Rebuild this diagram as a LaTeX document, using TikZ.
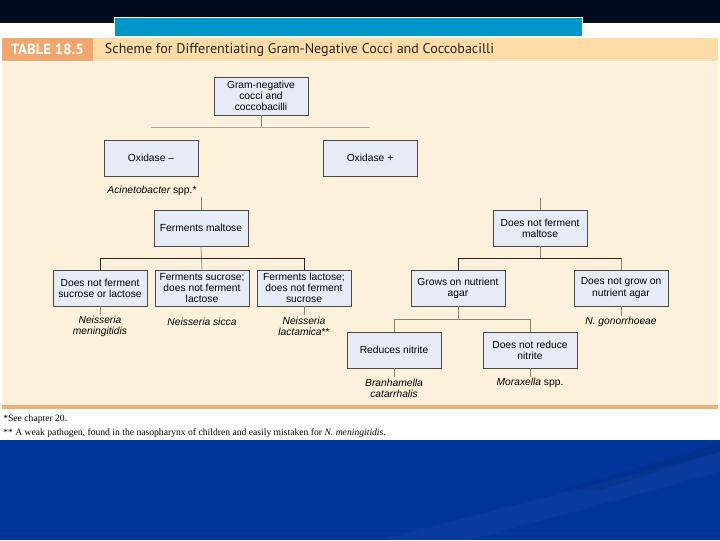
\documentclass[tikz,border=0pt]{standalone}
\usepackage{fontspec}
\setmainfont{Liberation Serif}
\setsansfont{Liberation Sans}
\newfontfamily\headfont{PT Sans}
\usepackage{tikz}
\usetikzlibrary{positioning}

\definecolor{topnavy}{HTML}{000C1E}
\definecolor{barblue}{HTML}{0096C8}
\definecolor{headband}{HTML}{FDDCA8}
\definecolor{tabletag}{HTML}{F2A66C}
\definecolor{cream}{HTML}{FEF1DC}
\definecolor{rulebrown}{HTML}{F0B078}
\definecolor{deepblue}{HTML}{00359A}
\definecolor{boxfill}{HTML}{E6ECF6}
\definecolor{boxline}{HTML}{4A4A4A}
\definecolor{stem}{HTML}{8C8272}

\begin{document}
\begin{tikzpicture}[x=0.025cm, y=-0.025cm,
        test/.style={rectangle, draw=boxline, fill=boxfill, line width=0.6pt, minimum width=2.35cm, minimum height=0.9cm, align=center, inner sep=1pt, font=\sffamily\fontsize{7.3}{7.9}\selectfont},
        species/.style={align=center, inner sep=1pt, font=\sffamily\itshape\fontsize{7.3}{7.9}\selectfont},
        stemline/.style={draw=stem, line width=0.5pt},
        forkline/.style={draw=black!85, line width=0.6pt}
    ]
        % Slide background
        \useasboundingbox (0,0) rectangle (720,540);
        \fill[white] (0,0) rectangle (720,540);
        \fill[topnavy] (0,0) rectangle (720,23);
        \fill[white] (114,17) rectangle (583,37);
        \fill[barblue] (115,18) rectangle (582,36);
        \fill[deepblue] (0,440) rectangle (720,540);
        \fill[white, opacity=0.03] (380,540) -- (720,452) -- (720,472) -- (470,540) -- cycle;
        \fill[black, opacity=0.07] (560,490) -- (720,444) -- (720,452) -- (600,490) -- cycle;

        % Table frame
        \fill[headband] (2,38) rectangle (718,61);
        \fill[tabletag] (2,38) rectangle (93,61);
        \fill[cream] (2,62) rectangle (718,406);
        \fill[rulebrown] (2,405) rectangle (718,409);
        \node[anchor=west, text=white, font=\headfont\bfseries\fontsize{10.5}{12}\selectfont] (tabletag) at (6,49.5) {TABLE 18.5};
        \node[anchor=west, text=black!85, font=\headfont\fontsize{10}{12}\selectfont] (tabletitle) at (100,49.5) {Scheme for Differentiating Gram-Negative Cocci and Coccobacilli};

        % Tests
        \node[test, minimum height=0.95cm] (root) at (261,96) {Gram-negative\\cocci and\\coccobacilli};
        \node[test] (oxneg) at (151,158) {Oxidase –};
        \node[test] (oxpos) at (370,158) {Oxidase +};
        \node[test] (maltpos) at (201,228) {Ferments maltose};
        \node[test] (maltneg) at (540,228) {Does not ferment\\maltose};
        \node[test] (nosuclac) at (100,288) {Does not ferment\\sucrose or lactose};
        \node[test] (sucrose) at (202,288) {Ferments sucrose;\\does not ferment\\lactose};
        \node[test] (lactose) at (304,288) {Ferments lactose;\\does not ferment\\sucrose};
        \node[test] (agarpos) at (458,288) {Grows on nutrient\\agar};
        \node[test] (agarneg) at (621,288) {Does not grow on\\nutrient agar};
        \node[test] (nitpos) at (394,350) {Reduces nitrite};
        \node[test] (nitneg) at (530,350) {Does not reduce\\nitrite};

        % Organisms
        \node[species] (acineto) at (152,191) {Acinetobacter\upshape{} spp.*};
        \node[species] (menin) at (100,326) {Neisseria\\meningitidis};
        \node[species] (sicca) at (202,322) {Neisseria sicca};
        \node[species] (lacta) at (304,326) {Neisseria\\lactamica\upshape{}**};
        \node[species] (gono) at (621,322) {N. gonorrhoeae};
        \node[species] (branha) at (394,388) {Branhamella\\catarrhalis};
        \node[species] (morax) at (530,383) {Moraxella\upshape{} spp.};

        % Fork levels
        \coordinate (topfork) at (0,127);
        \coordinate (lowfork) at (0,258);
        \coordinate (nitfork) at (0,319);

        % Connections
        \draw[stemline] (root.south) -- (root.south |- topfork);
        \draw[draw=stem!70, line width=0.5pt] (oxneg.north |- topfork) -- (oxpos.north |- topfork);
        \draw[stemline] (acineto.south -| maltpos.north) -- (maltpos.north);
        \draw[stemline] (maltneg.north) -- ++(0,-12);
        \draw[stemline] (maltpos.south) -- (sucrose.north);
        \draw[forkline] (nosuclac.north) -- (nosuclac.north |- lowfork) -- (lactose.north |- lowfork) -- (lactose.north);
        \draw[stemline] (maltneg.south) -- (maltneg.south |- lowfork);
        \draw[forkline] (agarpos.north) -- (agarpos.north |- lowfork) -- (agarneg.north |- lowfork);
        \draw[stemline] (agarneg.north |- lowfork) -- (agarneg.north);
        \draw[stemline] (agarpos.south) -- (agarpos.south |- nitfork);
        \draw[stemline] (nitpos.north) -- (nitpos.north |- nitfork) -- (nitneg.north |- nitfork) -- (nitneg.north);
        \draw[stemline] (nosuclac.south) -- (menin.north);
        \draw[stemline] (lactose.south) -- (lacta.north);
        \draw[stemline] (agarneg.south) -- (gono.north);
        \draw[stemline] (nitpos.south) -- (branha.north);
        \draw[stemline] (nitneg.south) -- (morax.north);

        % Footnotes
        \node[anchor=west, inner sep=0pt, font=\fontsize{6.85}{8}\selectfont] (note1) at (3,419) {*See chapter 20.};
        \node[anchor=west, inner sep=0pt, font=\fontsize{6.85}{8}\selectfont] (note2) at (3,433) {** A weak pathogen, found in the nasopharynx of children and easily mistaken for \textit{N. meningitidis}.};
    \end{tikzpicture}
\end{document}
